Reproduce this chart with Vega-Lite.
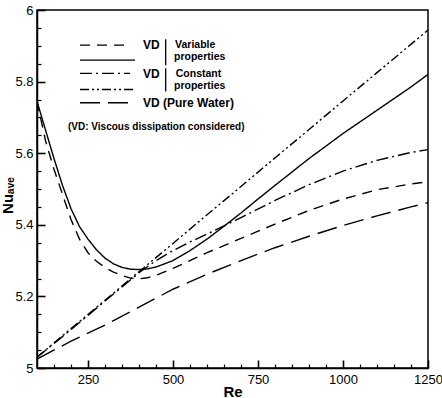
{
  "$schema": "https://vega.github.io/schema/vega-lite/v6.json",
  "width": 391,
  "height": 358,
  "autosize": {"type": "none"},
  "padding": {"left": 37, "top": 10, "right": 14, "bottom": 30},
  "background": "white",
  "config": {
    "view": {"stroke": "black", "strokeWidth": 1.5},
    "font": "Liberation Sans",
    "axis": {"grid": false, "domainColor": "black", "domainWidth": 1.5, "tickColor": "black", "labelColor": "black", "titleColor": "black", "labelFont": "Liberation Sans", "titleFont": "Liberation Sans", "labelFlush": false, "labelOverlap": false}
  },
  "datasets": {
    "curves": [
      {"series": "Variable A", "Re": 100, "Nu": 5.745}, {"series": "Variable A", "Re": 125, "Nu": 5.635}, {"series": "Variable A", "Re": 150, "Nu": 5.555}, {"series": "Variable A", "Re": 175, "Nu": 5.485}, {"series": "Variable A", "Re": 200, "Nu": 5.415}, {"series": "Variable A", "Re": 225, "Nu": 5.36}, {"series": "Variable A", "Re": 250, "Nu": 5.322}, {"series": "Variable A", "Re": 275, "Nu": 5.298}, {"series": "Variable A", "Re": 300, "Nu": 5.281}, {"series": "Variable A", "Re": 325, "Nu": 5.268}, {"series": "Variable A", "Re": 350, "Nu": 5.258}, {"series": "Variable A", "Re": 375, "Nu": 5.251}, {"series": "Variable A", "Re": 400, "Nu": 5.249}, {"series": "Variable A", "Re": 425, "Nu": 5.252}, {"series": "Variable A", "Re": 450, "Nu": 5.259}, {"series": "Variable A", "Re": 500, "Nu": 5.278}, {"series": "Variable A", "Re": 600, "Nu": 5.322}, {"series": "Variable A", "Re": 700, "Nu": 5.362}, {"series": "Variable A", "Re": 800, "Nu": 5.402}, {"series": "Variable A", "Re": 900, "Nu": 5.44}, {"series": "Variable A", "Re": 1000, "Nu": 5.472}, {"series": "Variable A", "Re": 1100, "Nu": 5.498}, {"series": "Variable A", "Re": 1200, "Nu": 5.514}, {"series": "Variable A", "Re": 1250, "Nu": 5.52},
      {"series": "Variable B", "Re": 100, "Nu": 5.745}, {"series": "Variable B", "Re": 125, "Nu": 5.665}, {"series": "Variable B", "Re": 150, "Nu": 5.585}, {"series": "Variable B", "Re": 175, "Nu": 5.51}, {"series": "Variable B", "Re": 200, "Nu": 5.445}, {"series": "Variable B", "Re": 225, "Nu": 5.395}, {"series": "Variable B", "Re": 250, "Nu": 5.36}, {"series": "Variable B", "Re": 275, "Nu": 5.33}, {"series": "Variable B", "Re": 300, "Nu": 5.307}, {"series": "Variable B", "Re": 325, "Nu": 5.291}, {"series": "Variable B", "Re": 350, "Nu": 5.281}, {"series": "Variable B", "Re": 375, "Nu": 5.276}, {"series": "Variable B", "Re": 400, "Nu": 5.275}, {"series": "Variable B", "Re": 425, "Nu": 5.277}, {"series": "Variable B", "Re": 450, "Nu": 5.282}, {"series": "Variable B", "Re": 500, "Nu": 5.3}, {"series": "Variable B", "Re": 550, "Nu": 5.328}, {"series": "Variable B", "Re": 600, "Nu": 5.36}, {"series": "Variable B", "Re": 650, "Nu": 5.396}, {"series": "Variable B", "Re": 700, "Nu": 5.433}, {"series": "Variable B", "Re": 750, "Nu": 5.472}, {"series": "Variable B", "Re": 800, "Nu": 5.51}, {"series": "Variable B", "Re": 900, "Nu": 5.585}, {"series": "Variable B", "Re": 1000, "Nu": 5.655}, {"series": "Variable B", "Re": 1100, "Nu": 5.72}, {"series": "Variable B", "Re": 1200, "Nu": 5.785}, {"series": "Variable B", "Re": 1250, "Nu": 5.82},
      {"series": "Constant A", "Re": 100, "Nu": 5.03}, {"series": "Constant A", "Re": 200, "Nu": 5.107}, {"series": "Constant A", "Re": 300, "Nu": 5.187}, {"series": "Constant A", "Re": 400, "Nu": 5.266}, {"series": "Constant A", "Re": 450, "Nu": 5.3}, {"series": "Constant A", "Re": 500, "Nu": 5.328}, {"series": "Constant A", "Re": 550, "Nu": 5.352}, {"series": "Constant A", "Re": 600, "Nu": 5.374}, {"series": "Constant A", "Re": 700, "Nu": 5.42}, {"series": "Constant A", "Re": 800, "Nu": 5.468}, {"series": "Constant A", "Re": 900, "Nu": 5.512}, {"series": "Constant A", "Re": 1000, "Nu": 5.55}, {"series": "Constant A", "Re": 1100, "Nu": 5.58}, {"series": "Constant A", "Re": 1200, "Nu": 5.602}, {"series": "Constant A", "Re": 1250, "Nu": 5.61},
      {"series": "Constant B", "Re": 100, "Nu": 5.03}, {"series": "Constant B", "Re": 200, "Nu": 5.11}, {"series": "Constant B", "Re": 300, "Nu": 5.189}, {"series": "Constant B", "Re": 400, "Nu": 5.269}, {"series": "Constant B", "Re": 500, "Nu": 5.348}, {"series": "Constant B", "Re": 600, "Nu": 5.428}, {"series": "Constant B", "Re": 700, "Nu": 5.507}, {"series": "Constant B", "Re": 800, "Nu": 5.587}, {"series": "Constant B", "Re": 900, "Nu": 5.666}, {"series": "Constant B", "Re": 1000, "Nu": 5.746}, {"series": "Constant B", "Re": 1100, "Nu": 5.825}, {"series": "Constant B", "Re": 1250, "Nu": 5.944},
      {"series": "Pure Water", "Re": 100, "Nu": 5.025}, {"series": "Pure Water", "Re": 200, "Nu": 5.075}, {"series": "Pure Water", "Re": 300, "Nu": 5.12}, {"series": "Pure Water", "Re": 400, "Nu": 5.17}, {"series": "Pure Water", "Re": 500, "Nu": 5.22}, {"series": "Pure Water", "Re": 600, "Nu": 5.262}, {"series": "Pure Water", "Re": 700, "Nu": 5.3}, {"series": "Pure Water", "Re": 800, "Nu": 5.336}, {"series": "Pure Water", "Re": 900, "Nu": 5.368}, {"series": "Pure Water", "Re": 1000, "Nu": 5.398}, {"series": "Pure Water", "Re": 1100, "Nu": 5.425}, {"series": "Pure Water", "Re": 1200, "Nu": 5.45}, {"series": "Pure Water", "Re": 1250, "Nu": 5.462}
    ],
    "legendLines": [
      {"series": "Variable A", "Re": 226.5, "Nu": 5.902}, {"series": "Variable A", "Re": 358.8, "Nu": 5.902},
      {"series": "Variable B", "Re": 226.5, "Nu": 5.86}, {"series": "Variable B", "Re": 388.2, "Nu": 5.86},
      {"series": "Constant A", "Re": 226.5, "Nu": 5.823}, {"series": "Constant A", "Re": 373.5, "Nu": 5.823},
      {"series": "Constant B", "Re": 226.5, "Nu": 5.778}, {"series": "Constant B", "Re": 382.4, "Nu": 5.778},
      {"series": "Pure Water", "Re": 226.5, "Nu": 5.741}, {"series": "Pure Water", "Re": 367.6, "Nu": 5.741}
    ],
    "bars": [
      {"Re": 478.5, "Nu": 5.918, "Nu2": 5.846},
      {"Re": 478.5, "Nu": 5.837, "Nu2": 5.772}
    ],
    "labels": [
      {"group": "big", "text": "VD", "Re": 411.8, "Nu": 5.902},
      {"group": "big", "text": "VD", "Re": 411.8, "Nu": 5.821},
      {"group": "big", "text": "VD (Pure Water)", "Re": 411.8, "Nu": 5.741},
      {"group": "small", "text": "Variable", "Re": 506, "Nu": 5.902},
      {"group": "small", "text": "properties", "Re": 503, "Nu": 5.868},
      {"group": "small", "text": "Constant", "Re": 508, "Nu": 5.822},
      {"group": "small", "text": "properties", "Re": 503, "Nu": 5.788},
      {"group": "note", "text": "(VD:  Viscous dissipation considered)", "Re": 191.2, "Nu": 5.673}
    ]
  },
  "layer": [
    {
      "data": {"name": "curves"},
      "mark": {"type": "line", "color": "black", "strokeWidth": 1.4, "clip": true},
      "encoding": {
        "x": {"field": "Re", "type": "quantitative", "scale": {"domain": [100, 1250], "nice": false, "zero": false},
          "axis": {"orient": "bottom", "values": [250, 500, 750, 1000, 1250], "format": "d", "ticks": false, "labelPadding": 5, "labelFontSize": 13, "title": "Re", "titleFontSize": 15, "titleFontWeight": "bold", "titleY": 28, "titleBaseline": "alphabetic"}},
        "y": {"field": "Nu", "type": "quantitative", "scale": {"domain": [5, 6], "nice": false, "zero": false},
          "axis": {"orient": "left", "values": [5, 5.2, 5.4, 5.6, 5.8, 6], "format": "~g", "ticks": false, "labelPadding": 4, "labelFontSize": 13, "title": "Nuₐᵥₑ", "titleFontSize": 15, "titleFontWeight": "bold", "titleX": -30, "titleY": 185, "titleAngle": -90, "titleBaseline": "middle", "titleAlign": "center"}},
        "strokeDash": {"field": "series", "type": "nominal", "legend": null,
          "scale": {"domain": ["Variable A", "Variable B", "Constant A", "Constant B", "Pure Water"], "range": [[10, 7], [1, 0], [12, 4, 2, 4], [9, 3, 2, 3, 2, 3], [20, 8]]}}
      }
    },
    {
      "data": {"name": "legendLines"},
      "mark": {"type": "line", "color": "black", "strokeWidth": 1.4},
      "encoding": {
        "x": {"field": "Re", "type": "quantitative", "scale": {"domain": [100, 1250], "nice": false, "zero": false},
          "axis": {"orient": "bottom", "values": [250, 500, 750, 1000, 1250], "labels": false, "domain": false, "offset": -8, "tickSize": 8, "tickWidth": 1.6, "title": null}},
        "y": {"field": "Nu", "type": "quantitative", "scale": {"domain": [5, 6], "nice": false, "zero": false},
          "axis": {"orient": "left", "values": [5, 5.2, 5.4, 5.6, 5.8, 6], "labels": false, "domain": false, "offset": -8, "tickSize": 8, "tickWidth": 1.6, "title": null}},
        "strokeDash": {"field": "series", "type": "nominal", "legend": null}
      }
    },
    {
      "data": {"name": "bars"},
      "mark": {"type": "rule", "color": "black", "strokeWidth": 1.3},
      "encoding": {
        "x": {"field": "Re", "type": "quantitative", "scale": {"domain": [100, 1250], "nice": false, "zero": false},
          "axis": {"orient": "bottom", "values": [150, 200, 300, 350, 400, 450, 550, 600, 650, 700, 800, 850, 900, 950, 1050, 1100, 1150, 1200], "labels": false, "domain": false, "offset": -4, "tickSize": 4, "tickWidth": 1.2, "title": null}},
        "y": {"field": "Nu", "type": "quantitative", "scale": {"domain": [5, 6], "nice": false, "zero": false},
          "axis": {"orient": "left", "values": [5.05, 5.1, 5.15, 5.25, 5.3, 5.35, 5.45, 5.5, 5.55, 5.65, 5.7, 5.75, 5.85, 5.9, 5.95], "labels": false, "domain": false, "offset": -4, "tickSize": 4, "tickWidth": 1.2, "title": null}},
        "y2": {"field": "Nu2"}
      }
    },
    {
      "data": {"name": "labels"},
      "transform": [{"filter": "datum.group === 'big'"}],
      "mark": {"type": "text", "align": "left", "baseline": "middle", "fontSize": 12, "fontWeight": "bold", "font": "Liberation Sans", "color": "black"},
      "encoding": {
        "x": {"field": "Re", "type": "quantitative", "scale": {"domain": [100, 1250], "nice": false, "zero": false}, "axis": null},
        "y": {"field": "Nu", "type": "quantitative", "scale": {"domain": [5, 6], "nice": false, "zero": false}, "axis": null},
        "text": {"field": "text"}
      }
    },
    {
      "data": {"name": "labels"},
      "transform": [{"filter": "datum.group === 'small'"}],
      "mark": {"type": "text", "align": "left", "baseline": "middle", "fontSize": 10.5, "fontWeight": "bold", "font": "Liberation Sans", "color": "black"},
      "encoding": {
        "x": {"field": "Re", "type": "quantitative", "scale": {"domain": [100, 1250], "nice": false, "zero": false}, "axis": null},
        "y": {"field": "Nu", "type": "quantitative", "scale": {"domain": [5, 6], "nice": false, "zero": false}, "axis": null},
        "text": {"field": "text"}
      }
    },
    {
      "data": {"name": "labels"},
      "transform": [{"filter": "datum.group === 'note'"}],
      "mark": {"type": "text", "align": "left", "baseline": "middle", "fontSize": 10, "fontWeight": "bold", "font": "Liberation Sans", "color": "black"},
      "encoding": {
        "x": {"field": "Re", "type": "quantitative", "scale": {"domain": [100, 1250], "nice": false, "zero": false}, "axis": null},
        "y": {"field": "Nu", "type": "quantitative", "scale": {"domain": [5, 6], "nice": false, "zero": false}, "axis": null},
        "text": {"field": "text"}
      }
    }
  ],
  "resolve": {"axis": {"x": "independent", "y": "independent"}}
}
